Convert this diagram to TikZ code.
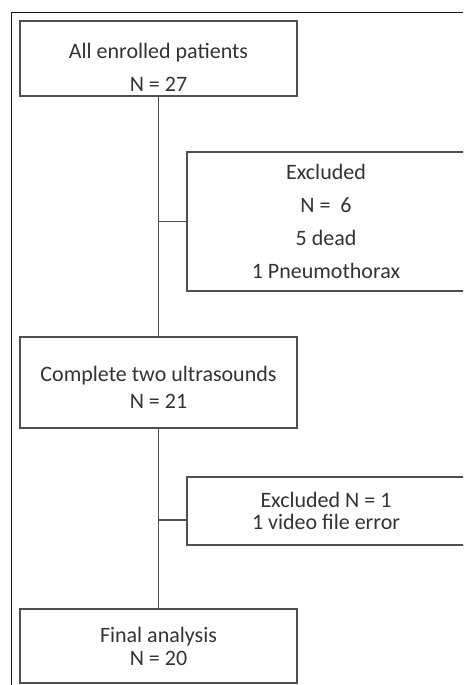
\documentclass[tikz,border=0pt]{standalone}
\usepackage{fontspec}
\setmainfont{Carlito}
\definecolor{boxgray}{HTML}{505050}
\definecolor{textgray}{HTML}{333333}
\tikzset{
	flowbox/.style={draw=boxgray, line width=1.7pt, align=center, text=textgray, font=\fontsize{22}{25}\selectfont, inner sep=0pt},
	flowline/.style={draw=boxgray, line width=1.5pt}
}

\begin{document}
\begin{tikzpicture}[x=1pt, y=-1pt]
		%%%%% START %%%%%
		
		\useasboundingbox (0, 0) rectangle (463, 685);
		\clip (0, 0) rectangle (463, 685);
		\draw[line width=1.6pt, color=black!90] (11.5, 12.5) rectangle (490, 700);
		
		\node[flowbox, minimum width=277pt, minimum height=75pt] (enrolled) at (158.5, 58.5) {\rule{0pt}{34pt}All enrolled patients\\[8pt]N = 27};
		\node[flowbox, minimum width=278pt, minimum height=139pt] (excl1) at (326, 221.5) {Excluded\\[8pt]N = \ 6\\[8pt]5 dead\\[8pt]1 Pneumothorax};
		\node[flowbox, minimum width=277pt, minimum height=91pt] (twoscans) at (158.5, 382.5) {\rule{0pt}{24pt}Complete two ultrasounds\\[2pt]N = 21};
		\node[flowbox, minimum width=278pt, minimum height=68pt] (excl2) at (326, 511) {Excluded N = 1\\[-3pt]1 video file error};
		\node[flowbox, minimum width=277pt, minimum height=74pt] (final) at (158.5, 646) {Final analysis\\[-2pt]N = 20};
		
		\draw[flowline] (enrolled.south) -- (twoscans.north);
		\draw[flowline] (twoscans.south) -- (final.north);
		
		\coordinate (split1) at (enrolled.south |- excl1.west);
		\draw[flowline] (split1) -- (excl1.west);
		\coordinate (split2) at (158.5, 520);
		\draw[flowline] (split2) -- (split2 -| excl2.west);
		
		%%%%% END %%%%%
	\end{tikzpicture}
\end{document}
